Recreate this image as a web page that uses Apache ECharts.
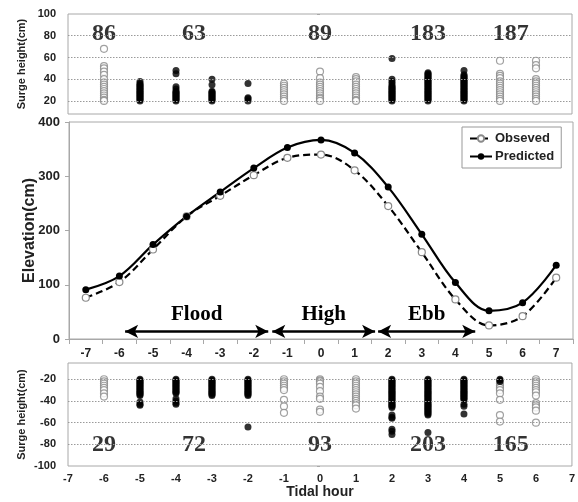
<!DOCTYPE html>
<html>
<head>
<meta charset="utf-8">
<script src="https://cdn.jsdelivr.net/npm/echarts@6/dist/echarts.min.js"></script>
<style>
html,body{margin:0;padding:0;background:#fff;}
#c{width:578px;height:502px;}
</style>
</head>
<body>
<div id="c"></div>
<script>
// ---------- DATA ----------
const hours = [-7,-6,-5,-4,-3,-2,-1,0,1,2,3,4,5,6,7];
const observed  = [76,105,165,226,264,302,334,340,311,245,160,73,25,42,113];
const predicted = [91,116,174,226,271,315,353,367,343,280,193,104,52,67,136];

// top panel (positive surge) columns
const topHollowHours = [-6,-1,0,1,5,6];
const topHollowValues = [
  [68,52,50,47,44,40,37,35,33,31,29,27,25,23,21,20],
  [36,34,32,30,28,26,24,22,20],
  [47,41,37,35,33,31,29,27,25,23,22,20],
  [42,40,38,35,33,31,29,27,25,23,21,20],
  [57,45,43,41,38,36,34,32,30,28,26,24,22,20],
  [57,53,50,40,38,36,34,32,30,28,26,24,22,20]
];
const topFilledHours = [-5,-4,-3,-2,2,3,4];
const topFilledValues = [
  [38,36,35,34,33,32,31,30,29,28,27,26,25,24,23,22,21,20],
  [48,45,33,31,29,28,27,26,25,24,23,22,21,20],
  [40,35,29,28,27,26,25,24,23,22,21,20],
  [36,23,22,20],
  [59,40,38,36,34,33,32,31,30,29,28,27,26,25,24,23,22,21,20],
  [46,45,44,43,42,41,40,39,38,37,36,35,34,33,32,31,30,29,28,27,26,25,24,23,22,21,20],
  [48,44,43,42,41,40,39,38,37,36,35,34,33,32,31,30,29,28,27,26,25,24,23,22,21,20]
];
const topCounts = [86,63,89,183,187];
const topCountHours = [-6,-3.5,0,3,5.3];
const topCountLevel = 82;

// bottom panel (negative surge) columns
const botHollowHours = [-6,-1,0,1,5,6];
const botHollowValues = [
  [-20,-22,-24,-26,-28,-30,-33,-36],
  [-20,-22,-24,-26,-28,-30,-39,-45,-51],
  [-20,-21,-22,-24,-27,-31,-36,-38,-48,-50],
  [-20,-22,-24,-26,-28,-30,-32,-34,-36,-38,-40,-42,-44,-47],
  [-24,-26,-28,-30,-33,-39,-53,-59],
  [-20,-22,-24,-26,-28,-30,-32,-35,-42,-44,-46,-49,-60]
];
const botFilledHours = [-5,-4,-3,-2,2,3,4,5];
const botFilledValues = [
  [-20,-21,-22,-23,-24,-25,-26,-27,-28,-29,-30,-31,-32,-33,-34,-35,-41,-43,-44],
  [-20,-21,-22,-23,-24,-25,-26,-27,-28,-29,-30,-31,-32,-33,-38,-40,-42,-43],
  [-20,-21,-22,-23,-24,-25,-26,-27,-28,-29,-30,-31,-32,-33,-34,-35],
  [-20,-21,-22,-23,-24,-25,-26,-27,-28,-29,-30,-31,-32,-33,-34,-35,-64],
  [-20,-21,-22,-23,-24,-25,-26,-27,-28,-29,-30,-31,-32,-33,-34,-35,-36,-37,-38,-39,-40,-41,-42,-43,-44,-45,-46,-53,-55,-56,-66,-68,-71],
  [-20,-21,-22,-23,-24,-25,-26,-27,-28,-29,-30,-31,-32,-33,-34,-35,-36,-37,-38,-39,-40,-41,-42,-43,-44,-45,-46,-47,-48,-49,-50,-51,-52,-53,-69],
  [-20,-21,-22,-23,-24,-25,-26,-27,-28,-29,-30,-31,-32,-33,-34,-35,-36,-37,-38,-39,-43,-45,-52],
  [-20,-21,-22]
];
const botCounts = [29,72,93,203,165];
const botCountHours = [-6,-3.5,0,3,5.3];
const botCountLevel = -80;

// tidal phases (arrows)
const phaseNames = ['Flood','High','Ebb'];
const phaseStart = [-5.83,-1.45,1.70];
const phaseEnd   = [-1.57,1.61,4.59];
const phaseLevel = 14;

const topTicks = [20,40,60,80,100];
const botTicks = [-20,-40,-60,-80,-100];
const midXTicksLabels = [-7,-6,-5,-4,-3,-2,-1,0,1,2,3,4,5,6,7];
const midXTickMarks = [-7.5,-6.5,-5.5,-4.5,-3.5,-2.5,-1.5,-0.5,0.5,1.5,2.5,3.5,4.5,5.5,6.5,7.5];

// ---------- BUILD ----------
function flatten(hrs, vals){
  const out = [];
  hrs.forEach((h,i)=>vals[i].forEach(v=>out.push([h,v])));
  return out;
}
const SANS = 'Liberation Sans, Arial, sans-serif';
const SERIF = 'Liberation Serif, Times New Roman, serif';
const TXT = '#222';
const BORDER = '#a8a8a8';

const hollowStyle = {color:'#fff', borderColor:'#8a8a8a', borderWidth:1.2};
const filledStyle = {color:'#000'};
function gridMarks(ticks){
  return {silent:true, symbol:['none','none'], animation:false,
    lineStyle:{color:'#9a9a9a', type:[1.5,1.5], width:1},
    label:{show:false},
    data:ticks.slice(0, ticks.length-1).map(v=>({yAxis:v}))};
}

const chart = echarts.init(document.getElementById('c'), null, {renderer:'canvas'});
chart.setOption({
  animation:false,
  backgroundColor:'#fff',
  grid:[
    {left:68, right:6, top:14, height:100, show:true, borderColor:BORDER, borderWidth:1, backgroundColor:'transparent'},
    {left:69, right:5, top:122, height:217, show:true, borderColor:BORDER, borderWidth:1, backgroundColor:'transparent'},
    {left:68, right:6, top:363, height:103, show:true, borderColor:BORDER, borderWidth:1, backgroundColor:'transparent'}
  ],
  legend:{
    data:['Obseved','Predicted'],
    orient:'vertical', left:462, top:127,
    padding:[5,7,5,7], itemGap:5, itemWidth:22, itemHeight:8,
    backgroundColor:'#fff', borderColor:'#999', borderWidth:1,
    textStyle:{fontFamily:SANS, fontWeight:'bold', fontSize:13, color:TXT, padding:[0,0,0,-2]}
  },
  xAxis:[
    {gridIndex:0, type:'value', min:-7, max:7, interval:1,
      axisLine:{show:false}, axisTick:{show:false}, axisLabel:{show:false}, splitLine:{show:false}},
    {gridIndex:1, type:'value', min:-7.5, max:7.5,
      axisLine:{show:true, onZero:false, lineStyle:{color:BORDER}},
      axisTick:{show:true, inside:false, length:5, lineStyle:{color:BORDER}, customValues:midXTickMarks},
      axisLabel:{customValues:midXTicksLabels, margin:9, fontFamily:SANS, fontWeight:'bold', fontSize:12, color:TXT},
      splitLine:{show:false}},
    {gridIndex:2, type:'value', min:-7, max:7, interval:1,
      name:'Tidal hour', nameLocation:'middle', nameGap:18,
      nameTextStyle:{fontFamily:SANS, fontSize:14, fontWeight:'bold', color:TXT},
      axisLine:{show:false}, axisTick:{show:false},
      axisLabel:{margin:7, fontFamily:SANS, fontWeight:'bold', fontSize:11, color:TXT},
      splitLine:{show:false}}
  ],
  yAxis:[
    {gridIndex:0, type:'value', min:8, max:100,
      name:'Surge height(cm)', nameLocation:'middle', nameGap:41, nameMoveOverlap:false,
      nameTextStyle:{fontFamily:SANS, fontSize:11, fontWeight:'bold', color:TXT},
      axisLine:{show:false},
      axisTick:{show:true, length:3, lineStyle:{color:BORDER}, customValues:topTicks},
      axisLabel:{customValues:topTicks, margin:12, fontFamily:SANS, fontWeight:'bold', fontSize:11, color:TXT},
      splitLine:{show:false}},
    {gridIndex:1, type:'value', min:0, max:400, interval:100,
      name:'Elevation(cm)', nameLocation:'middle', nameGap:31, nameMoveOverlap:false,
      nameTextStyle:{fontFamily:SANS, fontSize:16, fontWeight:'bold', color:TXT},
      axisLine:{show:true, onZero:false, lineStyle:{color:BORDER}},
      axisTick:{show:true, length:4, lineStyle:{color:BORDER}},
      axisLabel:{margin:9, fontFamily:SANS, fontWeight:'bold', fontSize:13, color:TXT},
      splitLine:{show:false}},
    {gridIndex:2, type:'value', min:-100, max:-5,
      name:'Surge height(cm)', nameLocation:'middle', nameGap:41, nameMoveOverlap:false,
      nameTextStyle:{fontFamily:SANS, fontSize:11, fontWeight:'bold', color:TXT},
      axisLine:{show:false},
      axisTick:{show:true, length:3, lineStyle:{color:BORDER}, customValues:botTicks},
      axisLabel:{customValues:botTicks, margin:12, fontFamily:SANS, fontWeight:'bold', fontSize:11, color:TXT},
      splitLine:{show:false}}
  ],
  series:[
    {type:'scatter', xAxisIndex:0, yAxisIndex:0, data:[], z:1, markLine:gridMarks(topTicks)},
    {type:'scatter', xAxisIndex:2, yAxisIndex:2, data:[], z:1, markLine:gridMarks(botTicks)},
    {type:'scatter', xAxisIndex:0, yAxisIndex:0, symbol:'circle', symbolSize:7, z:3,
      itemStyle:hollowStyle, data:flatten(topHollowHours, topHollowValues), silent:true},
    {type:'scatter', xAxisIndex:0, yAxisIndex:0, symbol:'circle', symbolSize:7, z:3,
      itemStyle:filledStyle, data:flatten(topFilledHours, topFilledValues), silent:true},
    {type:'scatter', xAxisIndex:0, yAxisIndex:0, symbolSize:0, silent:true, z:4,
      data:topCounts.map((c,i)=>[topCountHours[i], topCountLevel, c]),
      label:{show:true, position:'inside', formatter:p=>p.value[2],
        fontFamily:SERIF, fontWeight:'bold', fontSize:24, color:'#000'}},
    {type:'scatter', xAxisIndex:2, yAxisIndex:2, symbol:'circle', symbolSize:7, z:3,
      itemStyle:hollowStyle, data:flatten(botHollowHours, botHollowValues), silent:true},
    {type:'scatter', xAxisIndex:2, yAxisIndex:2, symbol:'circle', symbolSize:7, z:3,
      itemStyle:filledStyle, data:flatten(botFilledHours, botFilledValues), silent:true},
    {type:'scatter', xAxisIndex:2, yAxisIndex:2, symbolSize:0, silent:true, z:4,
      data:botCounts.map((c,i)=>[botCountHours[i], botCountLevel, c]),
      label:{show:true, position:'inside', formatter:p=>p.value[2],
        fontFamily:SERIF, fontWeight:'bold', fontSize:24, color:'#000'}},
    {name:'Obseved', type:'line', xAxisIndex:1, yAxisIndex:1, smooth:0.35,
      symbol:'circle', symbolSize:7, showSymbol:true,
      lineStyle:{color:'#000', width:2.2, type:[7,4]},
      itemStyle:{color:'#fff', borderColor:'#8a8a8a', borderWidth:1.2},
      data:hours.map((h,i)=>[h, observed[i]]),
      markLine:{silent:true, symbol:['arrow','arrow'], symbolSize:[10,13],
        lineStyle:{color:'#000', width:2.5, type:'solid'},
        label:{show:true, position:'insideMiddleTop', distance:6, formatter:p=>p.name,
          fontFamily:SERIF, fontWeight:'bold', fontSize:21, color:'#000'},
        data:phaseNames.map((n,i)=>[{name:n, coord:[phaseStart[i], phaseLevel]}, {coord:[phaseEnd[i], phaseLevel]}])
      }},
    {name:'Predicted', type:'line', xAxisIndex:1, yAxisIndex:1, smooth:0.35,
      symbol:'circle', symbolSize:7, showSymbol:true,
      lineStyle:{color:'#000', width:2.2},
      itemStyle:{color:'#000'},
      data:hours.map((h,i)=>[h, predicted[i]])}
  ]
});
</script>
</body>
</html>
